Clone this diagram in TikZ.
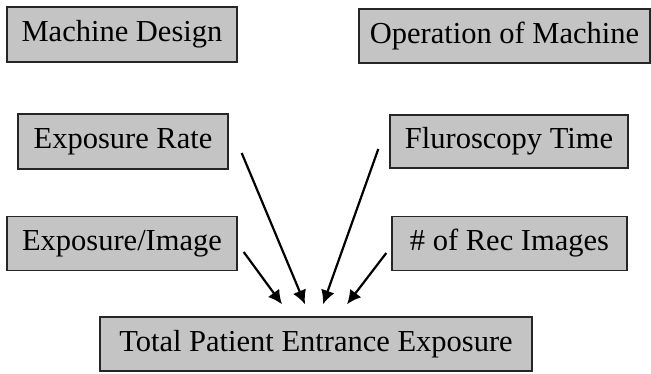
\documentclass[tikz,border=0pt]{standalone}
\usepackage{fontspec}
\setmainfont{Liberation Serif}
\usetikzlibrary{arrows.meta}
\definecolor{cajagris}{RGB}{196,196,196}
\begin{document}
\begin{tikzpicture}[
				x=1pt, y=1pt,
				caja/.style={draw=black!85, line width=1.4pt, fill=cajagris, inner sep=0pt,
					font=\fontsize{30.5}{36}\selectfont},
				flecha/.style={draw, line width=2.2pt, -{Latex[length=14pt, width=14pt]}}
			]
			\useasboundingbox (0,0) rectangle (651,374);
			% Fila superior
			\node[caja, minimum width=230pt, minimum height=55pt] (md) at (122,339.5) {Machine Design};
			\node[caja, minimum width=291pt, minimum height=54pt] (om) at (504.5,338) {Operation of Machine};
			% Segunda fila
			\node[caja, minimum width=210pt, minimum height=55pt] (er) at (123,232.5) {Exposure Rate};
			\node[caja, minimum width=238pt, minimum height=53pt] (ft) at (509,232.5) {Fluroscopy Time};
			% Tercera fila
			\node[caja, minimum width=230pt, minimum height=54pt] (ei) at (122,130.5) {Exposure/Image};
			\node[caja, minimum width=235pt, minimum height=54pt] (ri) at (509.5,130.5) {\# of Rec Images};
			% Nodo final
			\node[caja, minimum width=432pt, minimum height=54pt] (tpe) at (316,30) {Total Patient Entrance Exposure};
			% Flechas
			\draw[flecha] ([xshift=6pt, yshift=-8.5pt]ei.east) -- ([xshift=-34pt, yshift=12pt]tpe.north);
			\draw[flecha] ([xshift=13pt, yshift=-11.5pt]er.east) -- ([xshift=-11pt, yshift=12pt]tpe.north);
			\draw[flecha] ([xshift=-11pt, yshift=-7.5pt]ft.west) -- ([xshift=7pt, yshift=12pt]tpe.north);
			\draw[flecha] ([xshift=-5pt, yshift=-9.5pt]ri.west) -- ([xshift=31pt, yshift=12pt]tpe.north);
		\end{tikzpicture}
\end{document}
